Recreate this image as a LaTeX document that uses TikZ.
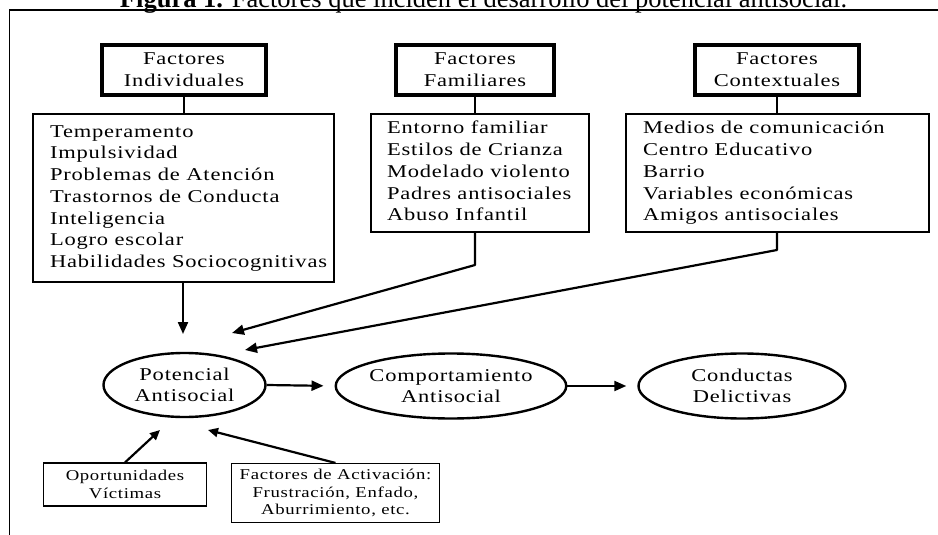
\documentclass[tikz,border=0pt]{standalone}
\usepackage{fontspec}
\setmainfont{Liberation Serif}
\newfontfamily\boxfont[FakeStretch=1.25,LetterSpace=4.5]{Liberation Serif}
\usetikzlibrary{shapes.geometric,arrows.meta}
\begin{document}
\begin{tikzpicture}[x=1pt,y=-1pt,
  topbox/.style={draw,line width=4pt,minimum width=164pt,minimum height=50pt,inner sep=0pt,align=center,
    font=\boxfont\fontsize{18}{22}\selectfont},
  listbox/.style={draw,line width=1.6pt,inner sep=0pt,font=\boxfont\fontsize{18}{21.7}\selectfont},
  oval/.style={draw,ellipse,line width=2.4pt,inner sep=0pt,align=center,
    font=\boxfont\fontsize{18}{21}\selectfont},
  smallbox/.style={draw,line width=1.1pt,inner sep=0pt,align=center,
    font=\boxfont\fontsize{15}{17.5}\selectfont},
  link/.style={line width=2.6pt},
  arr/.style={line width=2.2pt,-{Triangle[length=12pt,width=10pt]}},
  arrthin/.style={line width=2.2pt,-{Triangle[length=10pt,width=9pt]}}
]
\useasboundingbox (0,0) rectangle (938,535);
% frame
\draw[line width=1.3pt] (9.5,545) -- (9.5,10) -- (950,10);
% title
\node[anchor=base,inner sep=0pt,font=\fontsize{26.5}{30}\selectfont] (title) at (483.5,8)
  {\textbf{Figura 1.} Factores que inciden el desarrollo del potencial antisocial.};
% top boxes
\node[topbox] (indtop) at (184,70) {Factores\\Individuales};
\node[topbox,minimum width=158pt] (famtop) at (475,70) {Factores\\Familiares};
\node[topbox] (ctxtop) at (777,70) {Factores\\Contextuales};
% list boxes
\node[listbox,minimum width=301pt,minimum height=168pt] (indlist) at (183.5,198)
  {\makebox[267pt][l]{\begin{tabular}{@{}l@{}}Temperamento\\Impulsividad\\Problemas de Atención\\Trastornos de Conducta\\Inteligencia\\Logro escolar\\Habilidades Sociocognitivas\end{tabular}}};
\node[listbox,minimum width=218pt,minimum height=118pt] (famlist) at (480,173)
  {\makebox[186pt][l]{\begin{tabular}{@{}l@{}}Entorno familiar\\Estilos de Crianza\\Modelado violento\\Padres antisociales\\Abuso Infantil\end{tabular}}};
\node[listbox,minimum width=303pt,minimum height=118pt] (ctxlist) at (777.5,173)
  {\makebox[269pt][l]{\begin{tabular}{@{}l@{}}Medios de comunicación\\Centro Educativo\\Barrio\\Variables económicas\\Amigos antisociales\end{tabular}}};
% ellipses
\node[oval,minimum width=162pt,minimum height=64pt] (pot) at (184.5,385) {Potencial\\Antisocial};
\node[oval,minimum width=209pt,minimum height=65pt] (comp) at (451,386) {Comportamiento\\Antisocial};
\node[oval,minimum width=207pt,minimum height=65pt] (cond) at (742,386) {Conductas\\Delictivas};
% small boxes
\node[smallbox,minimum width=163pt,minimum height=43pt] (opp) at (125,484.5) {Oportunidades\\Víctimas};
\node[smallbox,minimum width=208pt,minimum height=59pt] (act) at (335.5,493) {Factores de Activación:\\Frustración, Enfado,\\Aburrimiento, etc.};
% helper coordinates
\coordinate (t1) at (183,334);
\coordinate (f1) at (475,265);
\coordinate (t2) at (232,333);
\coordinate (c1) at (777,250);
\coordinate (t3) at (245,350);
\coordinate (t5) at (160,430);
\coordinate (t6) at (208,430);
% connectors
\draw[link] (indtop.south) -- (indtop.south |- indlist.north);
\draw[link] (famtop.south) -- (famtop.south |- famlist.north);
\draw[link] (ctxtop.south) -- (ctxtop.south |- ctxlist.north);
\draw[arr] (indlist.south -| t1) -- (t1);
\draw[arr,line join=round] (famlist.south -| f1) -- (f1) -- (t2);
\draw[arr,line join=round] (ctxlist.south -| c1) -- (c1) -- (t3);
\draw[arr,shorten >=11pt] (pot.east) -- (comp.west);
\draw[arr,shorten >=11pt] (comp.east) -- (cond.west);
\draw[arrthin] (opp.north) -- (t5);
\draw[arrthin] (act.north) -- (t6);
\end{tikzpicture}
\end{document}
